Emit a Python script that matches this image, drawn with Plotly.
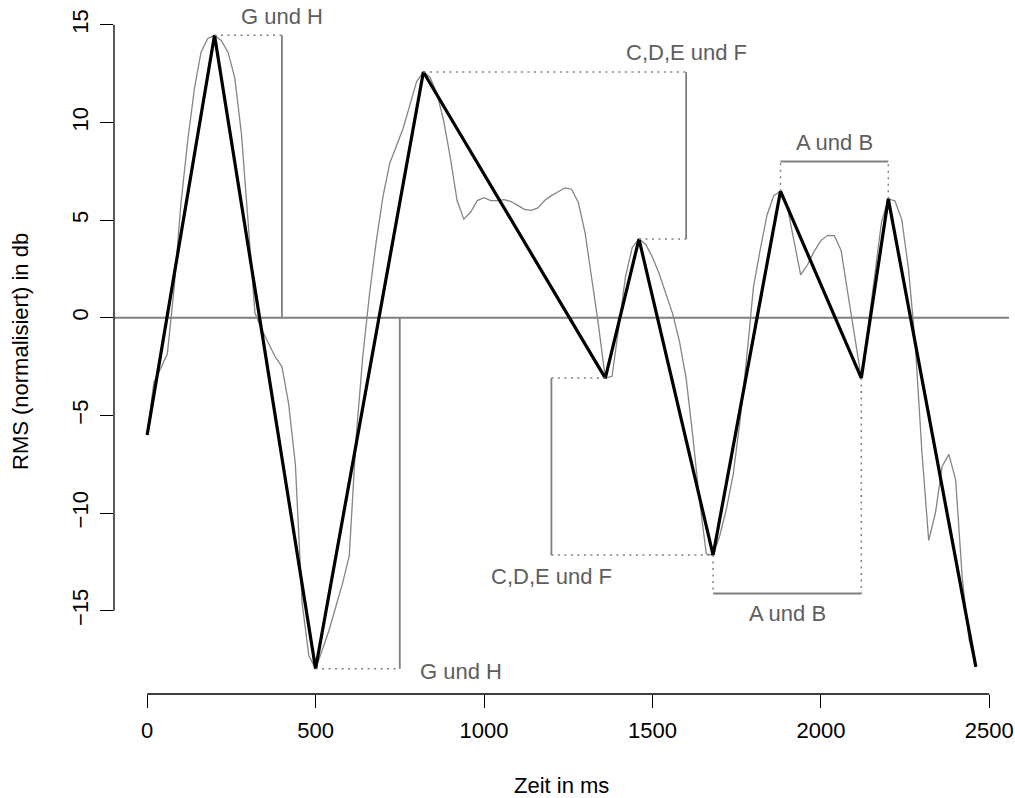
import plotly.graph_objects as go

# ---------------- data ----------------
time_ms = [0, 20, 40, 60, 80, 100, 120, 140, 160, 180,
           200, 220, 240, 260, 280, 300, 320, 340, 360, 380,
           400, 420, 440, 460, 480, 500, 520, 540, 560, 580,
           600, 620, 640, 660, 680, 700, 720, 740, 760, 780,
           800, 820, 840, 860, 880, 900, 920, 940, 960, 980,
           1000, 1020, 1040, 1060, 1080, 1100, 1120, 1140, 1160, 1180,
           1200, 1220, 1240, 1260, 1280, 1300, 1320, 1340, 1360, 1380,
           1400, 1420, 1440, 1460, 1480, 1500, 1520, 1540, 1560, 1580,
           1600, 1620, 1640, 1660, 1680, 1700, 1720, 1740, 1760, 1780,
           1800, 1820, 1840, 1860, 1880, 1900, 1920, 1940, 1960, 1980,
           2000, 2020, 2040, 2060, 2080, 2100, 2120, 2140, 2160, 2180,
           2200, 2220, 2240, 2260, 2280, 2300, 2320, 2340, 2360, 2380,
           2400, 2420, 2440, 2460]
rms_db = [-6.0, -3.3, -2.6, -1.85, 1.5, 5.8, 9.0, 11.7, 13.6, 14.3,
          14.46, 14.2, 13.6, 12.3, 9.4, 4.8, 0.25, -0.6, -1.3, -2.0,
          -2.5, -4.4, -7.5, -14.6, -17.3, -17.97, -17.0, -16.0, -14.8, -13.6,
          -12.2, -6.2, -2.0, 1.2, 3.9, 6.2, 7.9, 8.8, 9.7, 10.9,
          12.1, 12.58, 12.3, 11.5, 10.1, 8.2, 6.0, 5.05, 5.4, 6.0,
          6.15, 6.0, 6.0, 6.05, 5.95, 5.75, 5.55, 5.5, 5.62, 6.0,
          6.25, 6.45, 6.65, 6.58, 5.9, 4.35, 1.95, -0.4, -3.09, -3.0,
          -0.5, 2.1, 3.6, 4.03, 3.75, 3.1, 2.25, 1.25, 0.2, -1.2,
          -3.1, -6.1, -9.4, -12.1, -12.15, -11.15, -9.75, -8.0, -5.25, -2.0,
          1.6, 3.5, 5.25, 6.25, 6.48, 5.7, 3.85, 2.2, 2.7, 3.4,
          3.95, 4.22, 4.2, 3.45, 1.25, -0.9, -3.09, -0.5, 2.1, 4.9,
          6.09, 5.98, 5.04, 2.5, -1.3, -6.9, -11.4, -10.0, -7.6, -7.0,
          -8.3, -13.4, -16.5, -17.88]

# extrema (black polyline)
peak_ms = [0, 200, 500, 820, 1360, 1460, 1680, 1880, 2120, 2200, 2460]
peak_db = [-6.0, 14.46, -17.97, 12.58, -3.09, 4.03, -12.15, 6.48, -3.09, 6.09, -17.88]

x_ticks = [0, 500, 1000, 1500, 2000, 2500]
y_ticks = [-15, -10, -5, 0, 5, 10, 15]

# bracket anchors
gh_top_x = 400
gh_bot_x = 750
cdef_top_x = 1600
cdef_bot_x = 1200
ab_top_level = 8.0
ab_bot_level = -14.12

labels = ["G und H", "G und H", "C,D,E und F", "C,D,E und F", "A und B", "A und B"]

# ---------------- figure ----------------
W, H = 1015, 798
ML, MR, MT, MB = 114, 6, 10, 104
FONT = "Liberation Sans, Arial, Helvetica, sans-serif"
FS = 22
GREY = "#7f7f7f"
TXT = "#5e5e5e"

xmin, xmax = min(time_ms), max(time_ms)
ymin, ymax = min(rms_db), max(rms_db)
xpad = 0.04 * (xmax - xmin)
ypad = 0.04 * (ymax - ymin)

fig = go.Figure()

fig.add_trace(go.Scatter(x=time_ms, y=rms_db, mode="lines",
                         line=dict(color="#858585", width=1.3), hoverinfo="skip"))
fig.add_trace(go.Scatter(x=peak_ms, y=peak_db, mode="lines",
                         line=dict(color="black", width=3.2), hoverinfo="skip"))

shapes = []
dot = dict(color=GREY, width=1.5, dash="2px,4.5px")
solid = dict(color=GREY, width=1.8)

def seg(x0, y0, x1, y1, ln, layer="above"):
    shapes.append(dict(type="line", xref="x", yref="y", x0=x0, y0=y0, x1=x1, y1=y1,
                       line=ln, layer=layer))

# zero line
shapes.append(dict(type="line", xref="paper", yref="y", x0=0, x1=1, y0=0, y1=0,
                   line=dict(color=GREY, width=2), layer="below"))

# G und H top
seg(peak_ms[1], peak_db[1], gh_top_x, peak_db[1], dot)
seg(gh_top_x, peak_db[1], gh_top_x, 0, solid)
# G und H bottom
seg(peak_ms[2], peak_db[2], gh_bot_x, peak_db[2], dot)
seg(gh_bot_x, peak_db[2], gh_bot_x, 0, solid)
# C,D,E und F top
seg(peak_ms[3], peak_db[3], cdef_top_x, peak_db[3], dot)
seg(cdef_top_x, peak_db[3], cdef_top_x, peak_db[5], solid)
seg(peak_ms[5], peak_db[5], cdef_top_x, peak_db[5], dot)
# C,D,E und F bottom
seg(cdef_bot_x, peak_db[4], peak_ms[4], peak_db[4], dot)
seg(cdef_bot_x, peak_db[4], cdef_bot_x, peak_db[6], solid)
seg(cdef_bot_x, peak_db[6], peak_ms[6], peak_db[6], dot)
# A und B top
seg(peak_ms[7], peak_db[7], peak_ms[7], ab_top_level, dot)
seg(peak_ms[9], peak_db[9], peak_ms[9], ab_top_level, dot)
seg(peak_ms[7], ab_top_level, peak_ms[9], ab_top_level, solid)
# A und B bottom
seg(peak_ms[6], peak_db[6], peak_ms[6], ab_bot_level, dot)
seg(peak_ms[8], peak_db[8], peak_ms[8], ab_bot_level, dot)
seg(peak_ms[6], ab_bot_level, peak_ms[8], ab_bot_level, solid)

# axis lines (R style, spanning first to last tick)
shapes.append(dict(type="line", xref="x", yref="paper", x0=x_ticks[0], x1=x_ticks[-1],
                   y0=0, y1=0, line=dict(color="black", width=1.3)))
shapes.append(dict(type="line", xref="paper", yref="y", x0=0, x1=0,
                   y0=y_ticks[0], y1=y_ticks[-1], line=dict(color="black", width=1.3)))

ann = []
def lab(text, x, y, **kw):
    d = dict(text=text, x=x, y=y, xref="x", yref="y", showarrow=False,
             font=dict(family=FONT, size=FS, color=TXT))
    d.update(kw)
    ann.append(d)

lab(labels[0], gh_top_x, peak_db[1] + 0.95)
lab(labels[1], gh_bot_x, peak_db[2] - 0.15, xanchor="left", xshift=18)
lab(labels[2], cdef_top_x, peak_db[3] + 0.98)
lab(labels[3], cdef_bot_x, peak_db[6] - 1.1)
lab(labels[4], (peak_ms[7] + peak_ms[9]) / 2, ab_top_level + 0.98)
lab(labels[5], (peak_ms[6] + peak_ms[8]) / 2, ab_bot_level - 1.0)

# axis titles
ann.append(dict(text="Zeit in ms", xref="paper", yref="paper", x=0.5, y=0,
                yshift=-91, showarrow=False, yanchor="middle", borderpad=0,
                font=dict(family=FONT, size=FS, color="black")))
ann.append(dict(text="RMS (normalisiert) in db", xref="paper", yref="paper", x=0, y=0.5,
                xshift=-(ML - 20), showarrow=False, xanchor="center", textangle=-90,
                borderpad=0,
                font=dict(family=FONT, size=FS, color="black")))

fig.update_layout(
    width=W, height=H,
    margin=dict(l=ML, r=MR, t=MT, b=MB, pad=0, autoexpand=False),
    paper_bgcolor="white", plot_bgcolor="white",
    showlegend=False,
    shapes=shapes, annotations=ann,
    font=dict(family=FONT, size=FS, color="black"),
    xaxis=dict(range=[xmin - xpad, xmax + xpad], tickmode="array", tickvals=x_ticks,
               ticktext=[str(v) for v in x_ticks], automargin=False,
               showgrid=False, zeroline=False, showline=False,
               ticks="outside", ticklen=13, tickwidth=1.3, tickcolor="black",
               tickfont=dict(family=FONT, size=FS, color="black"),
               ticklabelstandoff=4),
    yaxis=dict(range=[ymin - ypad, ymax + ypad], tickmode="array", tickvals=y_ticks,
               ticktext=[("\u2212" + str(-v)) if v < 0 else str(v) for v in y_ticks],
               automargin=False,
               showgrid=False, zeroline=False, showline=False,
               ticks="outside", ticklen=13, tickwidth=1.3, tickcolor="black",
               tickangle=-90,
               tickfont=dict(family=FONT, size=FS, color="black"),
               ticklabelstandoff=3),
)

fig.write_html("out.html")
